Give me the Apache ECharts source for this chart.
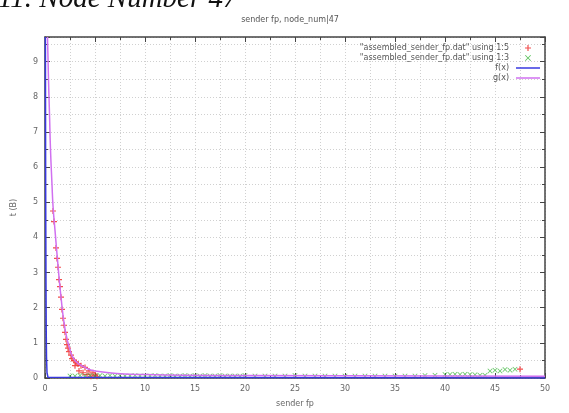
<!DOCTYPE html>
<html><head><meta charset="utf-8">
<script src="https://cdn.jsdelivr.net/npm/echarts@6/dist/echarts.min.js"></script>
<style>html,body{margin:0;padding:0;background:#fff}#c{width:569px;height:413px}</style>
</head><body><div id="c"></div>
<script>
const captionText = "11. Node Number 47";
const titleText = "sender fp, node_num|47";
const xLabel = "sender fp";
const yLabel = "t (B)";
const legendNames = ['"assembled_sender_fp.dat" using 1:5', '"assembled_sender_fp.dat" using 1:3', 'f(x)', 'g(x)'];

const redPoints = [[0.8,4.75],[0.9,4.45],[1.1,3.7],[1.2,3.4],[1.3,3.15],[1.4,2.8],[1.5,2.6],[1.6,2.3],[1.7,1.95],[1.8,1.7],[1.9,1.5],[2.0,1.3],[2.1,1.1],[2.2,0.95],[2.3,0.85],[2.4,0.75],[2.6,0.65],[2.7,0.55],[2.9,0.5],[3.0,0.35],[3.1,0.45],[3.3,0.4],[3.4,0.2],[3.6,0.35],[3.8,0.15],[4.0,0.3],[4.2,0.1],[4.4,0.2],[4.6,0.05],[4.8,0.15],[5.0,0.08],[5.2,0.05],[47.5,0.25]];

const greenPoints = [[2.5,0.06],[3,0.06],[3.5,0.07],[4,0.06],[4.5,0.07],[5,0.06],[5.5,0.07],[6,0.06],[6.5,0.07],[7,0.06],[7.5,0.07],[8,0.06],[8.5,0.06],[9,0.07],[9.5,0.06],[10,0.06],[10.5,0.06],[11,0.07],[11.5,0.06],[12,0.06],[12.5,0.07],[13,0.06],[13.5,0.06],[14,0.07],[14.5,0.06],[15,0.07],[15.5,0.06],[16,0.07],[16.5,0.06],[17,0.06],[17.5,0.07],[18,0.06],[18.5,0.06],[19,0.06],[19.5,0.06],[20,0.07],[21,0.06],[22,0.06],[23,0.06],[24,0.06],[25,0.07],[26,0.06],[27,0.06],[28,0.06],[29,0.06],[30,0.06],[31,0.06],[32,0.06],[33,0.06],[34,0.06],[35,0.06],[36,0.06],[37,0.06],[38,0.07],[39,0.08],[40,0.1],[40.5,0.1],[41,0.11],[41.5,0.1],[42,0.11],[42.5,0.1],[43,0.09],[43.5,0.08],[44,0.08],[44.5,0.2],[45,0.22],[45.5,0.2],[46,0.24],[46.5,0.22],[47,0.25]];

const fLine = [[0.04,9.7],[0.05,8.0],[0.06,6.3],[0.07,5.2],[0.08,4.2],[0.1,2.6],[0.12,1.4],[0.15,0.6],[0.2,0.15],[0.3,0.02],[50,0]];

const gLine = [[0.25,9.7],[0.35,8.5],[0.45,7.5],[0.55,6.5],[0.7,5.5],[0.8,4.9],[1.0,4.2],[1.3,3.2],[1.6,2.3],[2.0,1.4],[2.5,0.8],[3,0.5],[4,0.3],[5,0.2],[10,0.1],[20,0.07],[50,0.05]];

const xMin = 0, xMax = 50, xStep = 5;
const yMin = 0, yMax = 9.7, yStep = 1;

const chart = echarts.init(document.getElementById('c'), null, {renderer:'canvas'});
const axisCol = '#444';
const labStyle = {fontSize: 8, color: '#666', fontFamily: 'DejaVu Sans'};
const gridLine = {show: true, lineStyle: {color: '#d0d0d0', type: [1,2], width: 1}};
const plus = 'path://M4,0h2v4h4v2h-4v4h-2v-4h-4v-2h4z';
const cross = 'path://M1,0L5,4L9,0L10,1L6,5L10,9L9,10L5,6L1,10L0,9L4,5L0,1z';
const lineIcon = 'path://M0,0h24v1.5h-24z';

function xa(pos, showLabel){
  return {type:'value', position: pos, min:xMin, max:xMax, interval:xStep,
    axisLine:{show:true, onZero:false, lineStyle:{color:axisCol, width:1.5}},
    axisTick:{show:true, inside:true, length:5, lineStyle:{color:axisCol}},
    minorTick:{show:true, splitNumber:2, length:3, lineStyle:{color:axisCol}},
    axisLabel:{show:showLabel, margin:7, ...labStyle},
    splitLine: showLabel ? gridLine : {show:false},
    minorSplitLine: showLabel ? gridLine : {show:false},
    name: showLabel ? xLabel : '', nameLocation:'middle', nameGap:22,
    nameTextStyle:{fontSize:8, color:'#666', fontFamily:'DejaVu Sans'}};
}
function ya(pos, showLabel){
  return {type:'value', position: pos, min:yMin, max:yMax, interval:yStep,
    axisLine:{show:true, onZero:false, lineStyle:{color:axisCol, width:1.5}},
    axisTick:{show:true, inside:true, length:5, lineStyle:{color:axisCol}},
    minorTick:{show:true, splitNumber:2, length:3, lineStyle:{color:axisCol}},
    axisLabel:{show:showLabel, margin:7, showMaxLabel:false, ...labStyle},
    splitLine: showLabel ? gridLine : {show:false},
    minorSplitLine: showLabel ? gridLine : {show:false},
    name: showLabel ? yLabel : '', nameLocation:'middle', nameGap:27, nameRotate:90,
    nameTextStyle:{fontSize:8, color:'#666', fontFamily:'DejaVu Sans'}};
}

chart.setOption({
  animation:false,
  backgroundColor:'#fff',
  title:{text:titleText, left:285, textAlign:'center', top:11,
    textStyle:{fontSize:8, fontWeight:'normal', color:'#555', fontFamily:'DejaVu Sans'}},
  graphic:[{type:'text', left:-2, top:-15, style:{text:captionText, font:'italic 29px "Liberation Serif"', fill:'#111'}}],
  grid:{left:45, right:24, top:37, bottom:35},
  legend:{orient:'vertical', right:24, top:39, align:'right', itemWidth:24, itemHeight:6, itemGap:2,
    textStyle:{fontSize:8, color:'#555', fontFamily:'DejaVu Sans', padding:[0,2,0,0]},
    data:[
      {name:legendNames[0]},
      {name:legendNames[1]},
      {name:legendNames[2], icon:lineIcon, itemStyle:{color:'#3838e0'}},
      {name:legendNames[3], icon:lineIcon, itemStyle:{color:'#d070f0'}}
    ]},
  xAxis:[xa('bottom', true), xa('top', false)],
  yAxis:[ya('left', true), ya('right', false)],
  series:[
    {name:legendNames[0], type:'scatter', data:redPoints, symbol:plus, symbolSize:6,
      itemStyle:{color:'#f03030', opacity:0.85}},
    {name:legendNames[1], type:'scatter', data:greenPoints, symbol:cross, symbolSize:5,
      itemStyle:{color:'#30b030', opacity:0.8}},
    {name:legendNames[2], type:'line', data:fLine, symbol:'none', smooth:false,
      lineStyle:{color:'#3838e0', width:1.5}, itemStyle:{color:'#3838e0'}},
    {name:legendNames[3], type:'line', data:gLine, symbol:'none', smooth:true,
      lineStyle:{color:'#d070f0', width:1.5}, itemStyle:{color:'#d070f0'}}
  ]
});
</script></body></html>
